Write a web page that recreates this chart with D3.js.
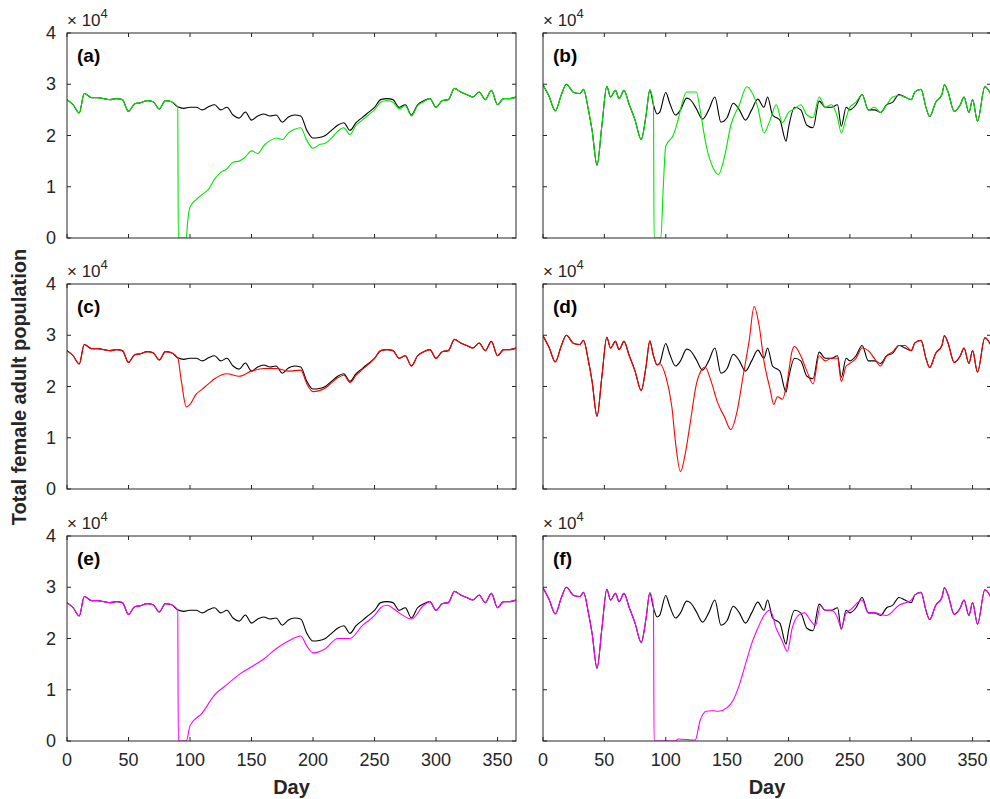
<!DOCTYPE html>
<html>
<head>
<script src="https://cdn.jsdelivr.net/npm/d3@7"></script>
<style>
body { margin:0; background:#fff; }
text { font-family: "Liberation Sans", Arial, sans-serif; fill:#262626; }
</style>
</head>
<body>
<div id="chart"></div>
<script>
// values in units of 1e4, [day, value]
var leftBase = [[0,2.7],[5,2.6],[10,2.44],[14,2.82],[20,2.74],[25,2.74],[30,2.72],[35,2.7],[40,2.72],[45,2.7],[50,2.47],[55,2.62],[60,2.64],[65,2.68],[70,2.66],[75,2.52],[80,2.68],[85,2.66],[90,2.56],[95,2.53],[100,2.55],[105,2.55],[110,2.5],[115,2.56],[120,2.6],[125,2.5],[130,2.55],[135,2.4],[140,2.34],[145,2.46],[150,2.3],[155,2.38],[160,2.42],[165,2.38],[170,2.4],[175,2.26],[180,2.36],[185,2.4],[190,2.38],[195,2.1],[200,1.95],[205,1.96],[210,2.0],[215,2.1],[220,2.2],[225,2.25],[230,2.1],[235,2.25],[240,2.35],[245,2.45],[250,2.55],[255,2.7],[260,2.72],[265,2.7],[270,2.55],[275,2.6],[280,2.4],[285,2.6],[290,2.68],[295,2.72],[300,2.55],[305,2.68],[310,2.7],[315,2.92],[320,2.85],[325,2.8],[330,2.75],[335,2.85],[340,2.7],[345,2.88],[350,2.6],[355,2.72],[360,2.72],[365,2.75]];
var aTreated = [[90.5,0],[97,0],[98,0.3],[100,0.6],[105,0.75],[110,0.85],[115,0.95],[120,1.15],[125,1.28],[130,1.35],[135,1.48],[140,1.5],[145,1.58],[150,1.7],[155,1.65],[160,1.8],[165,1.9],[170,1.95],[175,1.92],[180,2.05],[185,2.12],[190,2.15],[195,1.9],[200,1.75],[205,1.82],[210,1.85],[215,1.95],[220,2.08],[225,2.15],[230,2.02],[235,2.2],[240,2.3],[245,2.4],[250,2.5],[255,2.65],[260,2.68],[265,2.65],[270,2.52],[275,2.58],[280,2.38],[285,2.58],[290,2.66]];
var cTreated = [[93,2.1],[97,1.6],[100,1.65],[105,1.85],[110,1.95],[115,2.05],[120,2.15],[130,2.25],[140,2.2],[150,2.3],[160,2.35],[170,2.35],[180,2.3],[190,2.32],[195,2.05],[200,1.9],[205,1.92],[210,1.97],[215,2.07],[220,2.17],[225,2.22],[230,2.08],[235,2.22],[240,2.33],[245,2.43],[250,2.55]];
var eTreated = [[90.5,0],[97,0],[100,0.3],[110,0.55],[120,0.9],[130,1.1],[140,1.3],[150,1.45],[160,1.6],[170,1.8],[180,1.95],[190,2.05],[195,1.85],[200,1.72],[210,1.8],[220,2.0],[230,2.0],[240,2.25],[250,2.45],[255,2.6],[260,2.65],[270,2.5],[280,2.38],[290,2.65]];

var rightBase = [[0,2.99],[5,2.76],[10,2.48],[15,2.8],[19,3.0],[25,2.84],[30,2.82],[33,2.9],[37,2.5],[40,2.1],[44,1.42],[48,2.2],[52,2.96],[55,2.75],[59,2.88],[62,2.72],[66,2.88],[70,2.62],[75,2.3],[80,1.92],[84,2.4],[87,2.89],[90,2.6],[93,2.42],[95,2.45],[100,2.84],[103,2.65],[108,2.4],[112,2.5],[117,2.73],[120,2.7],[125,2.52],[130,2.32],[135,2.5],[140,2.75],[145,2.26],[150,2.35],[155,2.63],[160,2.5],[165,2.3],[170,2.5],[175,2.71],[180,2.55],[183,2.75],[187,2.4],[190,2.35],[193,2.3],[198,1.89],[200,2.15],[205,2.55],[210,2.5],[215,2.2],[220,2.15],[225,2.67],[230,2.55],[235,2.55],[240,2.6],[243,2.18],[247,2.55],[250,2.5],[255,2.6],[260,2.8],[265,2.5],[270,2.5],[275,2.45],[280,2.6],[285,2.65],[290,2.8],[295,2.75],[300,2.7],[303,2.85],[308,2.9],[312,2.55],[315,2.37],[320,2.65],[325,2.8],[327,2.99],[330,2.85],[335,2.47],[340,2.6],[343,2.75],[347,2.45],[350,2.7],[354,2.28],[360,2.95],[365,2.8]];
var bTreated = [[90.5,0],[96,0],[98,1.0],[100,1.79],[106,2.0],[110,2.3],[113,2.6],[117,2.85],[125,2.85],[128,2.5],[133,1.8],[138,1.4],[143,1.24],[148,1.6],[153,2.2],[160,2.6],[166,2.95],[170,2.85],[175,2.55],[180,2.05],[185,2.3],[190,2.6],[195,2.25],[200,2.45],[205,2.52],[210,2.6],[215,2.4],[220,2.35],[225,2.75],[230,2.55],[235,2.6],[240,2.35],[243,2.05],[247,2.35],[250,2.55],[255,2.65],[260,2.8],[265,2.5],[270,2.55],[275,2.45],[280,2.6],[285,2.75],[290,2.78],[295,2.75]];
var dTreated = [[95,2.45],[100,2.2],[105,1.6],[108,0.9],[112,0.34],[116,0.7],[120,1.3],[125,2.05],[130,2.35],[132,2.38],[137,2.1],[142,1.7],[148,1.4],[153,1.16],[158,1.5],[163,2.2],[168,2.9],[172,3.56],[176,3.2],[180,2.5],[185,1.95],[188,1.65],[191,1.8],[195,1.75],[199,2.1],[203,2.7],[205,2.78],[210,2.6],[215,2.3],[220,2.05],[225,2.6],[230,2.5],[235,2.55],[240,2.55],[243,2.1],[247,2.4],[250,2.45],[255,2.55],[260,2.75],[265,2.7],[270,2.55],[275,2.4],[280,2.6],[285,2.68],[290,2.8],[295,2.8]];
var fTreated = [[90.5,0],[108,0.0],[110,0.04],[124,0.02],[128,0.4],[133,0.58],[138,0.59],[143,0.58],[150,0.65],[155,0.8],[160,1.1],[165,1.5],[170,1.9],[175,2.2],[180,2.45],[185,2.55],[190,2.2],[195,1.95],[199,1.75],[203,2.2],[208,2.45],[213,2.5],[218,2.35],[222,2.25],[226,2.65],[230,2.55],[235,2.55],[240,2.4],[243,2.2],[247,2.5],[250,2.55],[260,2.75],[265,2.5],[270,2.5],[280,2.45],[290,2.65],[300,2.75]];

var xTicks = [0,50,100,150,200,250,300,350];
var yTicks = [0,1,2,3,4];
var labels = ["(a)","(b)","(c)","(d)","(e)","(f)"];
var colors = ["#00e600","#00e600","#ff0000","#ff0000","#ff00ff","#ff00ff"];
var treated = [aTreated,bTreated,cTreated,dTreated,eTreated,fTreated];

// splice: baseline up to treatment start, treated, then baseline after
function combine(base, tr) {
  var t0 = tr[0][0], t1 = tr[tr.length-1][0];
  return base.filter(function(p){ return p[0] < t0; })
    .concat(tr)
    .concat(base.filter(function(p){ return p[0] > t1; }));
}

var W = 990, H = 799;
var svg = d3.select("#chart").append("svg").attr("width", W).attr("height", H);
var lefts = [67, 543], widths = [449, 448];
var tops = [33, 284, 536], ph = 205;

for (var i = 0; i < 6; i++) {
  var col = i % 2, row = Math.floor(i / 2);
  var x = d3.scaleLinear().domain([0,365]).range([lefts[col], lefts[col] + widths[col]]);
  var y = d3.scaleLinear().domain([0,4]).range([tops[row] + ph, tops[row]]);
  var g = svg.append("g");
  var base = col == 0 ? leftBase : rightBase;
  var cid = "clip" + i;
  g.append("clipPath").attr("id", cid).append("rect")
    .attr("x", x(0)).attr("y", y(4)).attr("width", widths[col]).attr("height", ph);

  var line = d3.line().x(function(d){ return x(d[0]); }).y(function(d){ return y(d[1]); })
    .curve(d3.curveMonotoneX);
  g.append("path").datum(base).attr("d", line).attr("fill","none")
    .attr("stroke","#000").attr("stroke-width",1.1).attr("clip-path","url(#"+cid+")");
  g.append("path").datum(combine(base, treated[i])).attr("d", line).attr("fill","none")
    .attr("stroke",colors[i]).attr("stroke-width",1.1).attr("clip-path","url(#"+cid+")");

  // box and ticks
  g.append("rect").attr("x", x(0)).attr("y", y(4)).attr("width", widths[col]).attr("height", ph)
    .attr("fill","none").attr("stroke","#262626").attr("stroke-width",1);
  xTicks.forEach(function(t){
    g.append("line").attr("x1",x(t)).attr("x2",x(t)).attr("y1",y(0)).attr("y2",y(0)-4).attr("stroke","#262626");
    g.append("line").attr("x1",x(t)).attr("x2",x(t)).attr("y1",y(4)).attr("y2",y(4)+4).attr("stroke","#262626");
    if (row == 2) g.append("text").attr("x",x(t)).attr("y",y(0)+25).attr("text-anchor","middle")
      .attr("font-size",18).text(t);
  });
  yTicks.forEach(function(t){
    g.append("line").attr("x1",x(0)).attr("x2",x(0)+4).attr("y1",y(t)).attr("y2",y(t)).attr("stroke","#262626");
    g.append("line").attr("x1",x(365)).attr("x2",x(365)-4).attr("y1",y(t)).attr("y2",y(t)).attr("stroke","#262626");
    if (col == 0) g.append("text").attr("x",x(0)-11).attr("y",y(t)+6).attr("text-anchor","end")
      .attr("font-size",18).text(t);
  });
  var ex = g.append("text").attr("x", x(0)).attr("y", y(4)-7).attr("font-size",17);
  ex.append("tspan").text("\u00d7 10");
  ex.append("tspan").attr("dy",-8).attr("font-size",13).text("4");
  g.append("text").attr("x", x(0)+10).attr("y", y(4)+29).attr("font-size",19)
    .attr("font-weight","bold").style("fill","#000").text(labels[i]);
  if (row == 2) g.append("text").attr("x", lefts[col] + widths[col]/2).attr("y", y(0)+53)
    .attr("text-anchor","middle").attr("font-size",20).attr("font-weight","bold").text("Day");
}

svg.append("text").attr("transform","translate(26,387) rotate(-90)").attr("text-anchor","middle")
  .attr("font-size",20).attr("font-weight","bold").text("Total female adult population");
</script>
</body>
</html>
